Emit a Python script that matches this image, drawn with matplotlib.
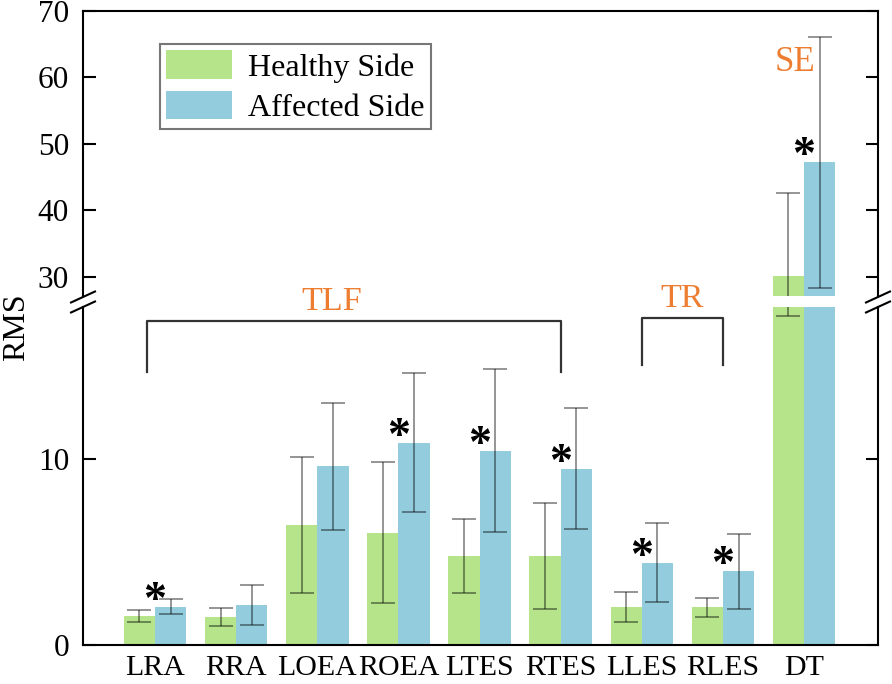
import matplotlib
matplotlib.use('Agg')
import matplotlib.pyplot as plt
import numpy as np
from matplotlib.lines import Line2D
from matplotlib.patches import Patch

# ---------------- data ----------------
categories = ['LRA', 'RRA', 'LOEA', 'ROEA', 'LTES', 'RTES', 'LLES', 'RLES', 'DT']
healthy = [1.56, 1.50, 6.43, 6.04, 4.78, 4.80, 2.03, 2.03, 30.2]
healthy_err = [0.30, 0.48, 3.65, 3.78, 1.97, 2.86, 0.80, 0.51, 12.5]
affected = [2.06, 2.15, 9.60, 10.88, 10.45, 9.48, 4.43, 3.96, 47.25]
affected_err = [0.40, 1.05, 3.43, 3.75, 4.40, 3.26, 2.12, 2.01, 18.9]
significant = [True, False, False, True, True, True, True, True, True]
series_labels = ['Healthy Side', 'Affected Side']
lower_ticks = [0, 10]
upper_ticks = [30, 40, 50, 60, 70]
group_labels = ['TLF', 'TR', 'SE']
group_spans = [(0, 5), (6, 7), (8, 8)]

# ---------------- style ----------------
FONT = 'Liberation Serif'
plt.rcParams['font.family'] = [FONT, 'DejaVu Serif']
GREEN = '#B5E48A'
BLUE = '#93CDDD'
ORANGE = '#ED7D31'

W, H = 892, 684
fig = plt.figure(figsize=(W / 100, H / 100), dpi=100)

L, R = 83, 878
up_top, up_bot = 11, 296
lo_top, lo_bot = 307, 645

def fbox(top, bot):
    return [L / W, 1 - bot / H, (R - L) / W, (bot - top) / H]

ax_up = fig.add_axes(fbox(up_top, up_bot))
ax_lo = fig.add_axes(fbox(lo_top, lo_bot))

x = np.arange(len(categories))
bw = 0.385

for ax in (ax_up, ax_lo):
    ax.bar(x - bw / 2, healthy, bw, color=GREEN, linewidth=0, zorder=2)
    ax.bar(x + bw / 2, affected, bw, color=BLUE, linewidth=0, zorder=2)
    for xs, vals, errs in ((x - bw / 2, healthy, healthy_err), (x + bw / 2, affected, affected_err)):
        eb = ax.errorbar(xs, vals, yerr=errs, fmt='none', ecolor='black',
                         elinewidth=1.4, capsize=8.5, capthick=1.4, zorder=3)
        for art in list(eb.lines[1]) + list(eb.lines[2]):
            art.set_alpha(0.42)
    ax.set_xlim(-0.888, 8.912)
    for s in ax.spines.values():
        s.set_linewidth(1.5)
        s.set_color('black')
    ax.tick_params(axis='y', direction='in', length=9, width=1.5, right=True,
                   labelsize=22.5, pad=10)

ax_up.set_ylim(27.14, 70)
ax_lo.set_ylim(0, 18.17)
ax_up.set_yticks(upper_ticks)
ax_lo.set_yticks(lower_ticks)
ax_up.spines['bottom'].set_visible(False)
ax_lo.spines['top'].set_visible(False)
ax_up.tick_params(axis='x', bottom=False, labelbottom=False)
ax_lo.set_xticks(x)
ax_lo.set_xticklabels(categories)
ax_lo.tick_params(axis='x', length=0, labelsize=21.5, pad=7)

# break marks
for xp in (L, R):
    for yp in (up_bot + 1, lo_top):
        fig.add_artist(Line2D([(xp - 12) / W, (xp + 12) / W],
                              [1 - (yp + 5.5) / H, 1 - (yp - 5.5) / H],
                              transform=fig.transFigure, color='black', lw=1.5))

# significance asterisks
for i, sig in enumerate(significant):
    if not sig:
        continue
    ax = ax_up if affected[i] > ax_lo.get_ylim()[1] else ax_lo
    ax.annotate('*', xy=(x[i], affected[i]), xytext=(0, -6), textcoords='offset pixels',
                ha='center', va='baseline', fontsize=33, fontweight='bold',
                color='black', zorder=5)

# brackets and group labels
bracket_tops = [17.43, 17.6]
bracket_feet = [14.7, 15.05]
label_shift = [-0.27, 0.0]
for k, (g, (a, b)) in enumerate(zip(group_labels[:2], group_spans[:2])):
    xa, xb = x[a] - (0.1 if k == 0 else 0.0), x[b]
    ax_lo.plot([xa, xa, xb, xb], [bracket_feet[k], bracket_tops[k], bracket_tops[k], bracket_feet[k]],
               color='#333333', lw=1.6, clip_on=False, zorder=4)
    ax_lo.text((xa + xb) / 2 + label_shift[k], bracket_tops[k] + 1.0, g,
               ha='center', va='center', color=ORANGE, fontsize=24.5, clip_on=False)
ax_up.text(x[group_spans[2][0]] - 0.11, 62.3, group_labels[2], ha='center', va='center',
           color=ORANGE, fontsize=25)

# legend
handles = [Patch(facecolor=GREEN, edgecolor='none'), Patch(facecolor=BLUE, edgecolor='none')]
leg = ax_up.legend(handles, series_labels, loc='upper left',
                   bbox_to_anchor=((160 - L) / (R - L), (up_bot - 44) / (up_bot - up_top)),
                   borderaxespad=0, fontsize=23, frameon=True, fancybox=False,
                   handlelength=2.05, handleheight=1.0, labelspacing=0.25,
                   handletextpad=0.5, borderpad=0.2)
leg.get_frame().set_edgecolor('#555555')
leg.get_frame().set_linewidth(1.5)

fig.text(17 / W, 1 - 327 / H, 'RMS', rotation=90, ha='center', va='center', fontsize=23)

fig.savefig('out.png', dpi=100)
